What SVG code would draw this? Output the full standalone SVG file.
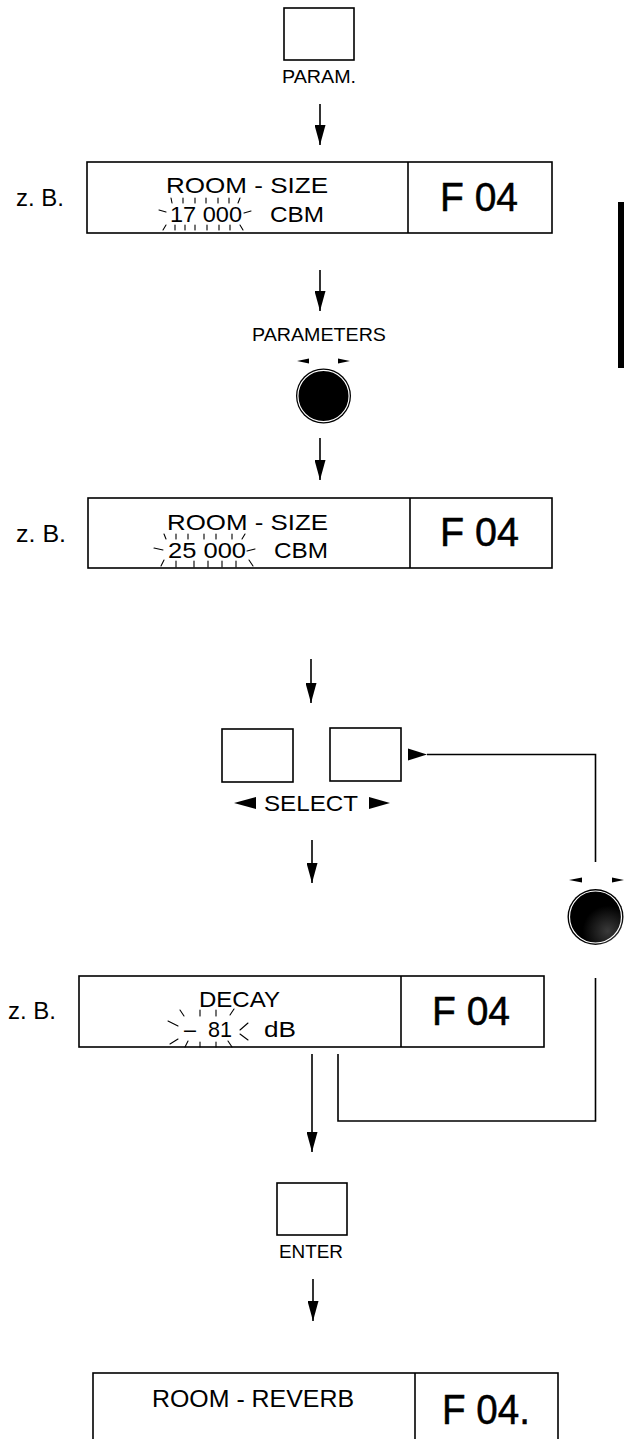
<svg xmlns="http://www.w3.org/2000/svg" width="627" height="1439" viewBox="0 0 627 1439">
<defs>
<style>
.bx{fill:#fff;stroke:#000;stroke-width:1.6}
.ln{fill:none;stroke:#000;stroke-width:1.6}
.gl{fill:none;stroke:#000;stroke-width:1.1;stroke-linecap:round}
.t{font-family:"Liberation Sans",Arial,Helvetica,sans-serif;fill:#000}
.f{font-size:40px;stroke:#000;stroke-width:0.5}
.m{font-size:22px}
.s{font-size:19px}
.zb{font-size:23px}
.tri{fill:#000}
</style>
<marker id="ah" markerUnits="userSpaceOnUse" markerWidth="20" markerHeight="11" refX="20" refY="5.5" orient="auto">
<path d="M0,0 L20,5.5 L0,11 z" fill="#000"/>
</marker>
<radialGradient id="kg" cx="0.72" cy="0.75" r="0.45">
<stop offset="0" stop-color="#3a3a3a"/>
<stop offset="1" stop-color="#000"/>
</radialGradient>
</defs>
<rect width="627" height="1439" fill="#fff"/>

<g id="btn-param">
<rect class="bx" x="284" y="8" width="70" height="52"/>
<text class="t s" x="282" y="83" textLength="74" lengthAdjust="spacingAndGlyphs">PARAM.</text>
</g>

<g id="display1">
<text class="t zb" x="16" y="206" textLength="48" lengthAdjust="spacingAndGlyphs">z. B.</text>
<rect class="bx" x="87" y="162" width="465" height="71"/>
<line class="ln" x1="408" y1="162" x2="408" y2="233"/>
<text class="t m" x="166" y="193" textLength="162" lengthAdjust="spacingAndGlyphs">ROOM - SIZE</text>
<text class="t m" x="170" y="222" textLength="72" lengthAdjust="spacingAndGlyphs">17 000</text>
<text class="t m" x="270" y="222" textLength="54" lengthAdjust="spacingAndGlyphs">CBM</text>
<path class="gl" d="M171,198 l1,5 M183,198 v5 M195,198 v5 M206,198 v5 M218,198 v5 M229,198 v5 M240,198 l-2,5 M159,210 l7,2 M244,213 l7,-2 M166,225 l-3,5 M175,225 v5 M185,225 v5 M195,225 v5 M207,225 v5 M219,225 v5 M230,225 v5 M240,225 l3,5"/>
<text class="t f" x="440" y="211" textLength="78" lengthAdjust="spacingAndGlyphs">F 04</text>
</g>

<g id="knob-parameters">
<text class="t s" x="252" y="341" textLength="134" lengthAdjust="spacingAndGlyphs">PARAMETERS</text>
<polygon class="tri" points="297,361 309,358.5 309,363.5"/>
<polygon class="tri" points="350,361 338,358.5 338,363.5"/>
<circle cx="323.5" cy="396" r="27.5" fill="#000"/>
<circle cx="323.5" cy="396" r="25.6" fill="none" stroke="#fff" stroke-width="1.2"/>
</g>

<g id="display2">
<text class="t zb" x="16" y="542" textLength="50" lengthAdjust="spacingAndGlyphs">z. B.</text>
<rect class="bx" x="88" y="498" width="464" height="70"/>
<line class="ln" x1="410" y1="498" x2="410" y2="568"/>
<text class="t m" x="167" y="530" textLength="161" lengthAdjust="spacingAndGlyphs">ROOM - SIZE</text>
<text class="t m" x="168" y="558" textLength="78" lengthAdjust="spacingAndGlyphs">25 000</text>
<text class="t m" x="274" y="558" textLength="54" lengthAdjust="spacingAndGlyphs">CBM</text>
<path class="gl" d="M164,534 l2,5 M176,534 v5 M188,534 v5 M204,534 v5 M216,534 v5 M232,534 v5 M245,534 l-3,5 M154,548 l9,2 M247,551 l8,-2 M164,560 l-3,6 M176,561 v6 M194,561 v6 M208,561 v6 M222,561 v6 M236,561 v6 M249,560 l4,6"/>
<text class="t f" x="440" y="546" textLength="79" lengthAdjust="spacingAndGlyphs">F 04</text>
</g>

<g id="select-buttons">
<rect class="bx" x="222" y="729" width="71" height="53"/>
<rect class="bx" x="330" y="728" width="71" height="53"/>
<polygon class="tri" points="234,803 256,797 256,809"/>
<text class="t m" x="264" y="811" textLength="94" lengthAdjust="spacingAndGlyphs">SELECT</text>
<polygon class="tri" points="390,803 369,797 369,809"/>
</g>

<g id="knob-right">
<polygon class="tri" points="569,880 582,877.5 582,882.5"/>
<polygon class="tri" points="624,880 612,877.5 612,882.5"/>
<circle cx="595.5" cy="917" r="28" fill="url(#kg)"/>
<circle cx="595.5" cy="917" r="26" fill="none" stroke="#fff" stroke-width="1.2"/>
</g>

<g id="display3">
<text class="t zb" x="8" y="1019" textLength="48" lengthAdjust="spacingAndGlyphs">z. B.</text>
<rect class="bx" x="79" y="976" width="465" height="71"/>
<line class="ln" x1="401" y1="976" x2="401" y2="1047"/>
<text class="t m" x="199" y="1007" textLength="81" lengthAdjust="spacingAndGlyphs">DECAY</text>
<text class="t m" x="184" y="1037" textLength="12" lengthAdjust="spacingAndGlyphs">–</text>
<text class="t m" x="208" y="1037" textLength="24" lengthAdjust="spacingAndGlyphs">81</text>
<text class="t m" x="264" y="1037" textLength="32" lengthAdjust="spacingAndGlyphs">dB</text>
<path class="gl" d="M180,1010 l4,6 M200,1010 v6 M216,1010 v6 M234,1009 l-4,6 M168,1021 l10,5 M170,1044 l8,-5 M248,1023 l-8,7 M240,1034 l8,6 M188,1041 l-3,6 M200,1042 v5 M216,1042 v5 M228,1041 l4,6"/>
<text class="t f" x="432" y="1025" textLength="78" lengthAdjust="spacingAndGlyphs">F 04</text>
</g>

<g id="btn-enter">
<rect class="bx" x="277" y="1183" width="70" height="52"/>
<text class="t s" x="279" y="1258" textLength="64" lengthAdjust="spacingAndGlyphs">ENTER</text>
</g>

<g id="display4">
<rect class="bx" x="93" y="1373" width="465" height="71"/>
<line class="ln" x1="415" y1="1373" x2="415" y2="1444"/>
<text class="t" font-size="24" x="152" y="1407" textLength="202" lengthAdjust="spacingAndGlyphs">ROOM - REVERB</text>
<text class="t" font-size="42" stroke="#000" stroke-width="0.5" x="442" y="1424" textLength="88" lengthAdjust="spacingAndGlyphs">F 04.</text>
</g>

<g id="side-bar">
<rect x="618" y="202" width="6" height="166" fill="#000"/>
</g>

<g id="connectors">
<line class="ln" x1="320" y1="104" x2="320" y2="145" marker-end="url(#ah)"/>
<line class="ln" x1="320" y1="270" x2="320" y2="311" marker-end="url(#ah)"/>
<line class="ln" x1="320" y1="438" x2="320" y2="480" marker-end="url(#ah)"/>
<line class="ln" x1="311" y1="659" x2="311" y2="703" marker-end="url(#ah)"/>
<line class="ln" x1="312" y1="840" x2="312" y2="883" marker-end="url(#ah)"/>
<line class="ln" x1="312" y1="1054" x2="312" y2="1152" marker-end="url(#ah)"/>
<line class="ln" x1="313" y1="1279" x2="313" y2="1321" marker-end="url(#ah)"/>
<polyline class="ln" points="595.5,862 595.5,754.5 427,754.5"/>
<polygon class="tri" points="408,748.5 408,760.5 427,754.5"/>
<polyline class="ln" points="338,1054 338,1121 595.5,1121 595.5,978"/>
</g>
</svg>
